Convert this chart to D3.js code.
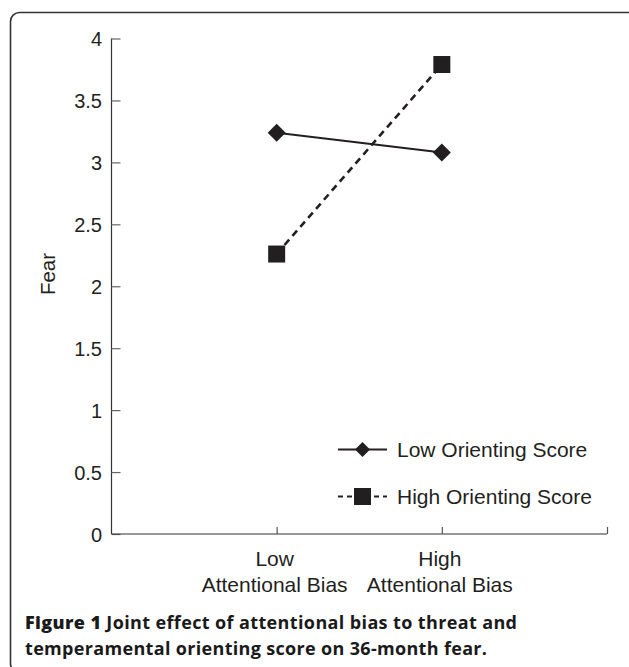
<!DOCTYPE html>
<html>
<head>
<meta charset="utf-8">
<script src="https://cdn.jsdelivr.net/npm/d3@7/dist/d3.min.js"></script>
<style>
  html, body { margin: 0; padding: 0; background: #fff; }
  svg { display: block; }
</style>
</head>
<body>
<svg id="chart" width="629" height="667"></svg>
<script>
// ---- data ----
const categories = [["Low", "Attentional Bias"], ["High", "Attentional Bias"]];
const lowOrienting = [3.24, 3.08];
const highOrienting = [2.26, 3.79];
const yTicks = [0, 0.5, 1, 1.5, 2, 2.5, 3, 3.5, 4];
const seriesNames = ["Low Orienting Score", "High Orienting Score"];
const yTitle = "Fear";
const captionBold = "Figure 1";
const captionLine1 = " Joint effect of attentional bias to threat and";
const captionLine2 = "temperamental orienting score on 36-month fear.";

const ink = "#231f20";
const sans = "'Liberation Sans', Arial, sans-serif";
const svg = d3.select("#chart");

// frame (rounded, only top/left visible)
svg.append("rect")
  .attr("x", 10.5).attr("y", 12.5)
  .attr("width", 630).attr("height", 660)
  .attr("rx", 9).attr("ry", 9)
  .attr("fill", "none").attr("stroke", "#333").attr("stroke-width", 1.6);

// scales
const x = d3.scaleLinear().domain([0, 3]).range([111.5, 607]);
const y = d3.scaleLinear().domain([0, 4]).range([534, 38.5]);

// y axis
const yAxis = d3.axisRight(y).tickValues(yTicks).tickSize(9)
  .tickFormat(d => d3.format("")(d));
const gy = svg.append("g").attr("transform", `translate(${x(0)},0)`).call(yAxis);
gy.select(".domain").attr("stroke", "#333").attr("stroke-width", 1.2).attr("d", `M0,${y(4)}V${y(0)}`);
gy.selectAll(".tick line").attr("stroke", "#666").attr("stroke-width", 1.2);
gy.selectAll(".tick text")
  .attr("x", -9.5).attr("dy", "0.36em")
  .attr("text-anchor", "end")
  .attr("fill", ink)
  .style("font-family", sans)
  .style("font-size", "20px");

// x axis
const xAxis = d3.axisTop(x).tickValues([1, 2, 3]).tickSize(7).tickFormat("");
const gx = svg.append("g").attr("transform", `translate(0,${y(0)})`).call(xAxis);
gx.select(".domain").attr("stroke", "#333").attr("stroke-width", 1.2).attr("d", `M${x(0)},0H${x(3)}`);
gx.selectAll(".tick line").attr("stroke", "#555").attr("stroke-width", 1.2);

// x category labels
categories.forEach((lines, i) => {
  const t = svg.append("text")
    .attr("text-anchor", "middle")
    .attr("fill", ink)
    .style("font-family", sans)
    .style("font-size", "21px");
  lines.forEach((ln, j) => {
    t.append("tspan").attr("x", x(i + 1) - 2).attr("y", 566 + j * 26).text(ln);
  });
});

// y title
svg.append("text")
  .attr("transform", `translate(55,274) rotate(-90)`)
  .attr("text-anchor", "middle")
  .attr("fill", ink)
  .style("font-family", sans)
  .style("font-size", "20.5px")
  .text(yTitle);

// lines
const line = d3.line().x((d, i) => x(i + 1)).y(d => y(d));
svg.append("path").datum(lowOrienting).attr("d", line)
  .attr("fill", "none").attr("stroke", ink).attr("stroke-width", 2);
svg.append("path").datum(highOrienting).attr("d", line)
  .attr("fill", "none").attr("stroke", ink).attr("stroke-width", 2.6)
  .attr("stroke-dasharray", "7,5");

// markers
const diamond = (cx, cy, r) => `M${cx},${cy - r}L${cx + r},${cy}L${cx},${cy + r}L${cx - r},${cy}Z`;
svg.selectAll(".dia").data(lowOrienting).enter().append("path")
  .attr("d", (d, i) => diamond(x(i + 1), y(d), 9))
  .attr("fill", ink);
svg.selectAll(".sq").data(highOrienting).enter().append("rect")
  .attr("x", (d, i) => x(i + 1) - 8.5).attr("y", d => y(d) - 8.5)
  .attr("width", 17).attr("height", 17)
  .attr("fill", ink);

// legend
const lg = svg.append("g");
const legY = [449.5, 496.5];
lg.append("line").attr("x1", 338).attr("x2", 387).attr("y1", legY[0]).attr("y2", legY[0])
  .attr("stroke", ink).attr("stroke-width", 2.2);
lg.append("path").attr("d", diamond(362.5, legY[0], 7.5)).attr("fill", ink);
lg.append("line").attr("x1", 338).attr("x2", 387).attr("y1", legY[1]).attr("y2", legY[1])
  .attr("stroke", ink).attr("stroke-width", 2.2).attr("stroke-dasharray", "5,4");
lg.append("rect").attr("x", 354).attr("y", legY[1] - 8.5).attr("width", 17).attr("height", 17).attr("fill", ink);
seriesNames.forEach((n, i) => {
  lg.append("text").attr("x", 397).attr("y", legY[i] + 7)
    .attr("fill", ink)
    .style("font-family", sans)
    .style("font-size", "21px")
    .text(n);
});

// caption
const cap = svg.append("g")
  .style("font-family", "'Open Sans', 'Noto Sans', sans-serif")
  .style("font-weight", "700")
  .style("font-size", "18px")
  .attr("fill", "#1a1a1a");
const c1 = cap.append("text").attr("x", 25).attr("y", 629);
c1.append("tspan").style("font-weight", "800").text(captionBold);
c1.append("tspan").text(captionLine1);
const c2 = cap.append("text").attr("x", 25).attr("y", 655).text(captionLine2);
// fit caption lines to the reference widths via letter spacing
function fit(sel, target) {
  const node = sel.node();
  const w = node.getComputedTextLength();
  const n = node.textContent.length;
  if (n > 1) sel.style("letter-spacing", ((target - w) / (n - 1)) + "px");
}
fit(c1, 492);
fit(c2, 462);
</script>
</body>
</html>
